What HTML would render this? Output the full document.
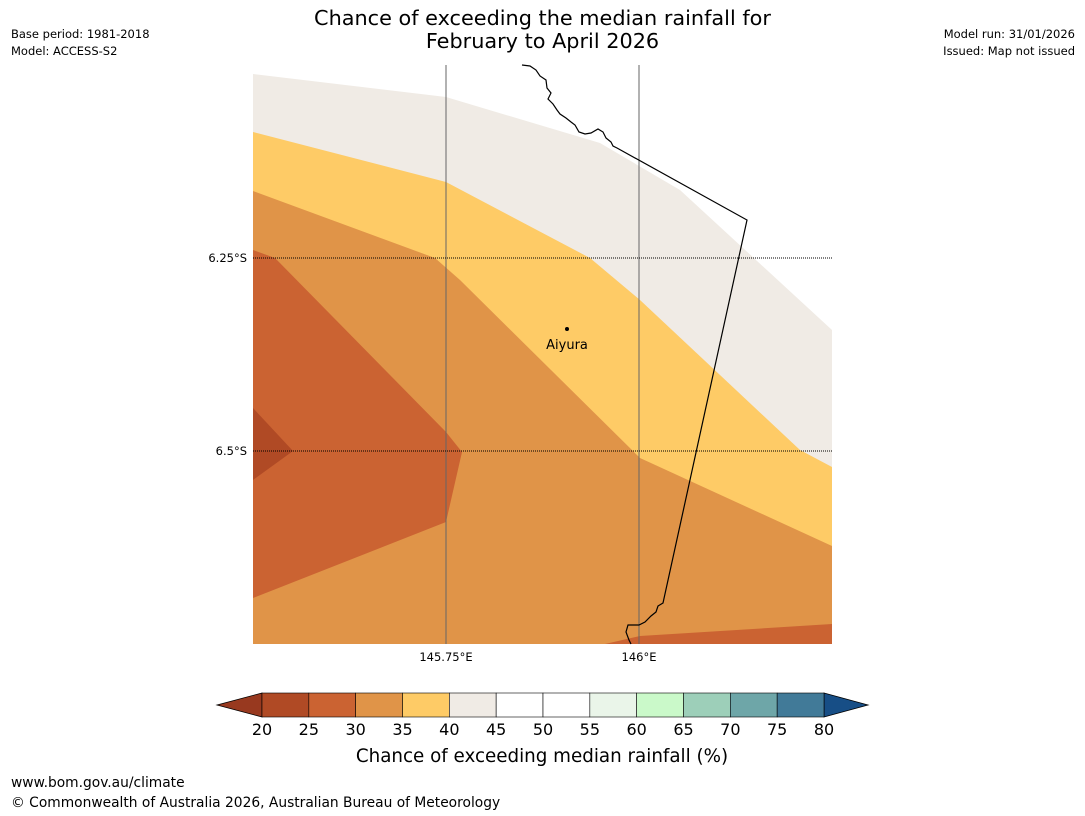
<!DOCTYPE html>
<html><head><meta charset="utf-8"><style>
body{margin:0;width:1085px;height:816px;background:#fff;font-family:"DejaVu Sans","Liberation Sans",sans-serif;position:relative;overflow:hidden}
.t{position:absolute;white-space:nowrap}
svg text{font-family:"DejaVu Sans","Liberation Sans",sans-serif}
</style></head><body>
<div class="t" style="left:0;width:1085px;top:7px;text-align:center;font-size:20.8px;line-height:23px">Chance of exceeding the median rainfall for<br>February to April 2026</div>
<div class="t" style="left:11px;top:26px;font-size:11.5px;line-height:17px">Base period: 1981-2018<br>Model: ACCESS-S2</div>
<div class="t" style="right:10px;top:26px;font-size:11.5px;line-height:17px;text-align:right">Model run: 31/01/2026<br>Issued: Map not issued</div>
<svg width="1085" height="816" style="position:absolute;left:0;top:0">
<g>
<polygon fill="#f0ebe5" points="253,74 446,97 600,143 680,190 832,330 832,644 253,644"/>
<polygon fill="#fecb66" points="253,132 446,182 590,258 640,300 800,450 832,467 832,644 253,644"/>
<polygon fill="#e09448" points="253,191 435,258 460,280 640,458 832,546 832,644 253,644"/>
<polygon fill="#cb6332" points="253,250 275,258 446,432 462,452 446,522 253,598"/>
<polygon fill="#cb6332" points="605,644 640,636 832,624 832,644"/>
<polygon fill="#b04a25" points="253,408 293,451 253,480"/>
</g>
<line x1="446" y1="65" x2="446" y2="644" stroke="#666" stroke-width="1"/>
<line x1="639" y1="65" x2="639" y2="644" stroke="#666" stroke-width="1"/>
<line x1="253" y1="258" x2="832" y2="258" stroke="#000" stroke-width="1" stroke-dasharray="1,1"/>
<line x1="253" y1="451" x2="832" y2="451" stroke="#000" stroke-width="1" stroke-dasharray="1,1"/>
<polyline fill="none" stroke="#000" stroke-width="1.2" points="522,65 530,66 536,70 540,76 546,80 547,88 551,93 548,99 553,104 557,110 560,114 566,118 571,122 575,125 579,132 585,134 591,133 598,129 603,132 606,138 611,142 613,146 617,148 747,220 663,603 658,606 656,612 651,616 645,622 639,625 628,625 626,632 629,640 631,644"/>
<circle cx="567" cy="329" r="2" fill="#000"/>
<text x="567" y="349" font-size="13" text-anchor="middle">Aiyura</text>
<text x="247" y="262" font-size="11.5" text-anchor="end">6.25°S</text>
<text x="247" y="455" font-size="11.5" text-anchor="end">6.5°S</text>
<text x="446" y="661" font-size="11.5" text-anchor="middle">145.75°E</text>
<text x="639" y="661" font-size="11.5" text-anchor="middle">146°E</text>
<g id="cb"></g>
<text x="542" y="762" font-size="18.3" text-anchor="middle">Chance of exceeding median rainfall (%)</text>
</svg>
<div class="t" style="left:11px;top:775px;font-size:13.8px">www.bom.gov.au/climate</div>
<div class="t" style="left:11px;top:795px;font-size:13.8px">© Commonwealth of Australia 2026, Australian Bureau of Meteorology</div>
<script>
const cbTicks=[20,25,30,35,40,45,50,55,60,65,70,75,80];
const cbColors=["#b04a25","#cb6332","#e09448","#fecb66","#f0ebe5","#ffffff","#ffffff","#eaf5e9","#caf9c9","#9dcfb9","#6ea6a8","#417a98"];
const NS="http://www.w3.org/2000/svg";
const g=document.getElementById('cb');
const x0=262,x1=824,y0=693,y1=717;
const sx=v=>x0+(v-20)/(80-20)*(x1-x0);
function mk(t,a){const e=document.createElementNS(NS,t);for(const k in a)e.setAttribute(k,a[k]);g.appendChild(e);return e;}
let l=mk('polygon',{points:`${x0},${y0} 217,705 ${x0},${y1}`,fill:'#98391f',stroke:'#000','stroke-width':0.8});


let r=mk('polygon',{points:`${x1},${y0} 868,705 ${x1},${y1}`,fill:'#174e86',stroke:'#000','stroke-width':0.8});


cbColors.forEach((c,i)=>{
 const a=sx(cbTicks[i]),b=sx(cbTicks[i+1]);
 const e=mk('rect',{x:a,y:y0,width:b-a,height:y1-y0,fill:c,stroke:'#000','stroke-width':0.6});
 
 
});
cbTicks.forEach(v=>{
 const t=mk('text',{x:sx(v),y:735,'font-size':16,'text-anchor':'middle'});
 t.textContent=v;
 
 
});
</script>
</body></html>
